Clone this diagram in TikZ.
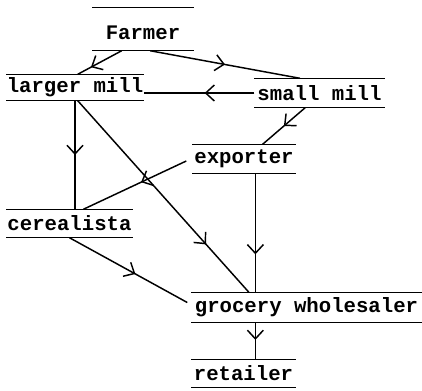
\documentclass[tikz,border=0pt]{standalone}
\usepackage{fontspec}
\setmonofont{Liberation Mono}
\usetikzlibrary{arrows.meta,decorations.markings,calc}

\begin{document}
\begin{tikzpicture}[x=0.75pt,y=-0.75pt,line width=1.1pt,
 entry/.style={inner sep=0pt,font=\ttfamily\bfseries\fontsize{15.5}{18}\selectfont,
  append after command={(\tikzlastnode.north west) edge (\tikzlastnode.north east)
   (\tikzlastnode.south west) edge (\tikzlastnode.south east)}},
 flow/.style={postaction={decorate},decoration={markings,
  mark=at position #1 with {\arrow{Straight Barb[length=6.5pt,width=12pt]}}}},
 flow/.default=0.5]
\useasboundingbox (0,0) rectangle (422,390);
\node[entry,minimum width=75pt,minimum height=31.5pt,text height=16pt,text depth=0pt] (farmer) at (143,29) {Farmer};
\node[entry,minimum width=102pt,minimum height=18.75pt] (larger) at (75,87.5) {larger mill};
\node[entry,minimum width=96.75pt,minimum height=21pt] (small) at (319.5,93) {small mill};
\node[entry,minimum width=76.5pt,minimum height=21pt] (exporter) at (244,159) {exporter};
\node[entry,minimum width=93.75pt,minimum height=20.25pt] (cereal) at (69.5,223.5) {cerealista};
\node[entry,minimum width=171.75pt,minimum height=21.75pt] (grocery) at (306.5,307.5) {grocery wholesaler};
\node[entry,minimum width=77.25pt,minimum height=20.25pt] (retailer) at (243.5,373.5) {retailer};
\coordinate (col) at ($(exporter.south west)!0.61!(exporter.south east)$);
% flows between the trade levels
\draw[flow=0.7] ($(farmer.south west)!0.29!(farmer.south east)$) -- ($(larger.north west)!0.52!(larger.north east)$);
\draw[flow] ($(farmer.south west)!0.57!(farmer.south east)$) -- ($(small.north west)!0.35!(small.north east)$);
\draw[flow=0.45] (small.west) -- (small.west -| larger.east);
\draw[flow] ($(small.south west)!0.39!(small.south east)$) -- ($(exporter.north west)!0.68!(exporter.north east)$);
\draw[flow] (larger.south) -- (larger.south |- cereal.north);
\draw[flow=0.75] ($(larger.south west)!0.52!(larger.south east)$) -- ($(grocery.north west)!0.25!(grocery.north east)$);
\draw[flow=0.44] ($(exporter.west)+(-6,2)$) -- ($(cereal.north west)!0.61!(cereal.north east)$);
\draw[flow=0.68] (col) -- (col |- grocery.north);
\draw[flow=0.56] (cereal.south) -- ($(grocery.west)+(-4,-5)$);
\draw[flow=0.47] (col |- grocery.south) -- (col |- retailer.north);
\end{tikzpicture}
\end{document}
